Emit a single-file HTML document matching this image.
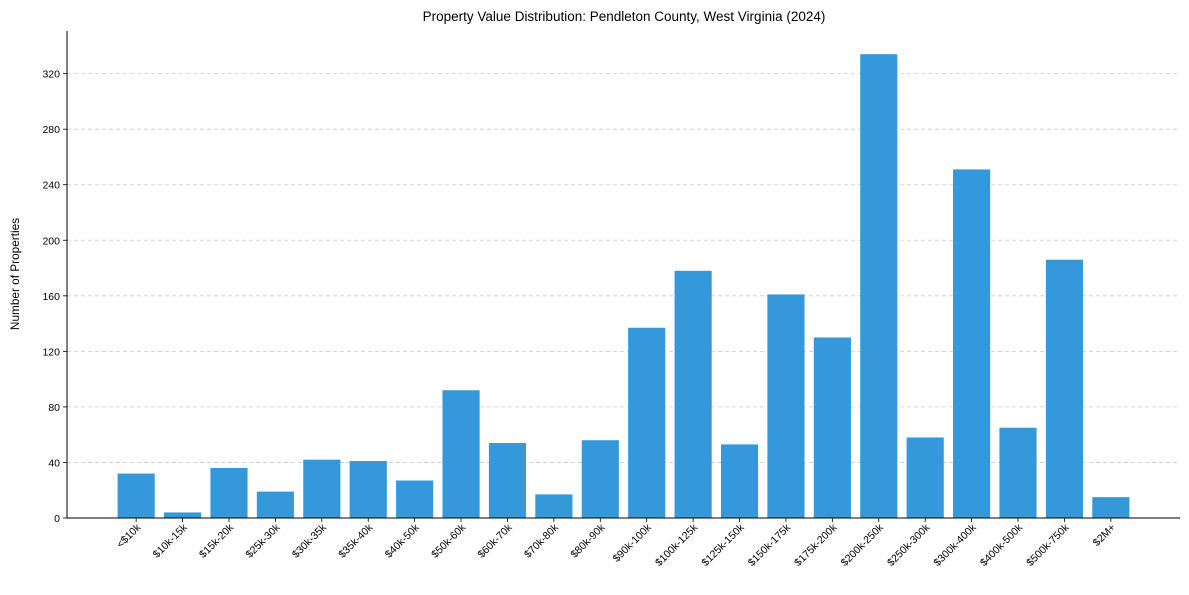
<!DOCTYPE html>
<html><head><meta charset="utf-8"><style>
body{margin:0;background:#fff;font-family:"Liberation Sans",sans-serif;}
</style></head><body>
<svg id="chart" width="1189" height="590" xmlns="http://www.w3.org/2000/svg">
<text x="624" y="21" text-anchor="middle" font-size="13.5" fill="#000">Property Value Distribution: Pendleton County, West Virginia (2024)</text>
<text transform="translate(19,274) rotate(-90)" text-anchor="middle" font-size="11.8" fill="#000">Number of Properties</text>
<g id="grid"></g><g id="bars"></g><g id="axes"></g>
</svg>
<script>
const categories=["<$10k","$10k-15k","$15k-20k","$25k-30k","$30k-35k","$35k-40k","$40k-50k","$50k-60k","$60k-70k","$70k-80k","$80k-90k","$90k-100k","$100k-125k","$125k-150k","$150k-175k","$175k-200k","$200k-250k","$250k-300k","$300k-400k","$400k-500k","$500k-750k","$2M+"];
const counts=[32,4,36,19,42,41,27,92,54,17,56,137,178,53,161,130,334,58,251,65,186,15];
const yTicks=[0,40,80,120,160,200,240,280,320];
const NS="http://www.w3.org/2000/svg";
const L=67,R=1180,B=518,T=31;
const n=categories.length;
const xmin=-0.4-0.05*(n-0.2),xmax=n-1+0.4+0.05*(n-0.2);
const ymax=Math.max(...counts)*1.05;
const xs=v=>L+(v-xmin)/(xmax-xmin)*(R-L);
const ys=v=>B-v/ymax*(B-T);
function mk(t,a,p){const e=document.createElementNS(NS,t);for(const k in a)e.setAttribute(k,a[k]);p.appendChild(e);return e;}
const grid=document.getElementById('grid'),bars=document.getElementById('bars'),axes=document.getElementById('axes');
yTicks.forEach(v=>{
 const y=ys(v);
 if(v>0){const g=mk('line',{x1:L,x2:R,y1:y,y2:y,stroke:'#ccc','stroke-dasharray':'4,3','stroke-width':0.8},grid);
 
 }
 mk('line',{x1:L-4,x2:L,y1:y,y2:y,stroke:'#000','stroke-width':0.8},axes);
 const t=mk('text',{x:L-7,y:y+4,'text-anchor':'end','font-size':10.5},axes);t.textContent=v;
 
 
});
const w=(xs(0.4)-xs(-0.4));
categories.forEach((c,i)=>{
 const x=xs(i);
 const r=mk('rect',{x:x-w/2,y:ys(counts[i]),width:w,height:B-ys(counts[i]),fill:'#3498db'},bars);
 
 
 mk('line',{x1:x,x2:x,y1:B,y2:B+4,stroke:'#000','stroke-width':0.8},axes);
 const t=mk('text',{transform:`translate(${x+5},${B+10}) rotate(-45)`,'text-anchor':'end','font-size':10.5},axes);t.textContent=c;
 
 
});
const xa=mk('line',{x1:L,x2:R,y1:B,y2:B,stroke:'#000','stroke-width':1},axes);


const ya=mk('line',{x1:L,x2:L,y1:T,y2:B,stroke:'#000','stroke-width':1},axes);


</script>
</body></html>
